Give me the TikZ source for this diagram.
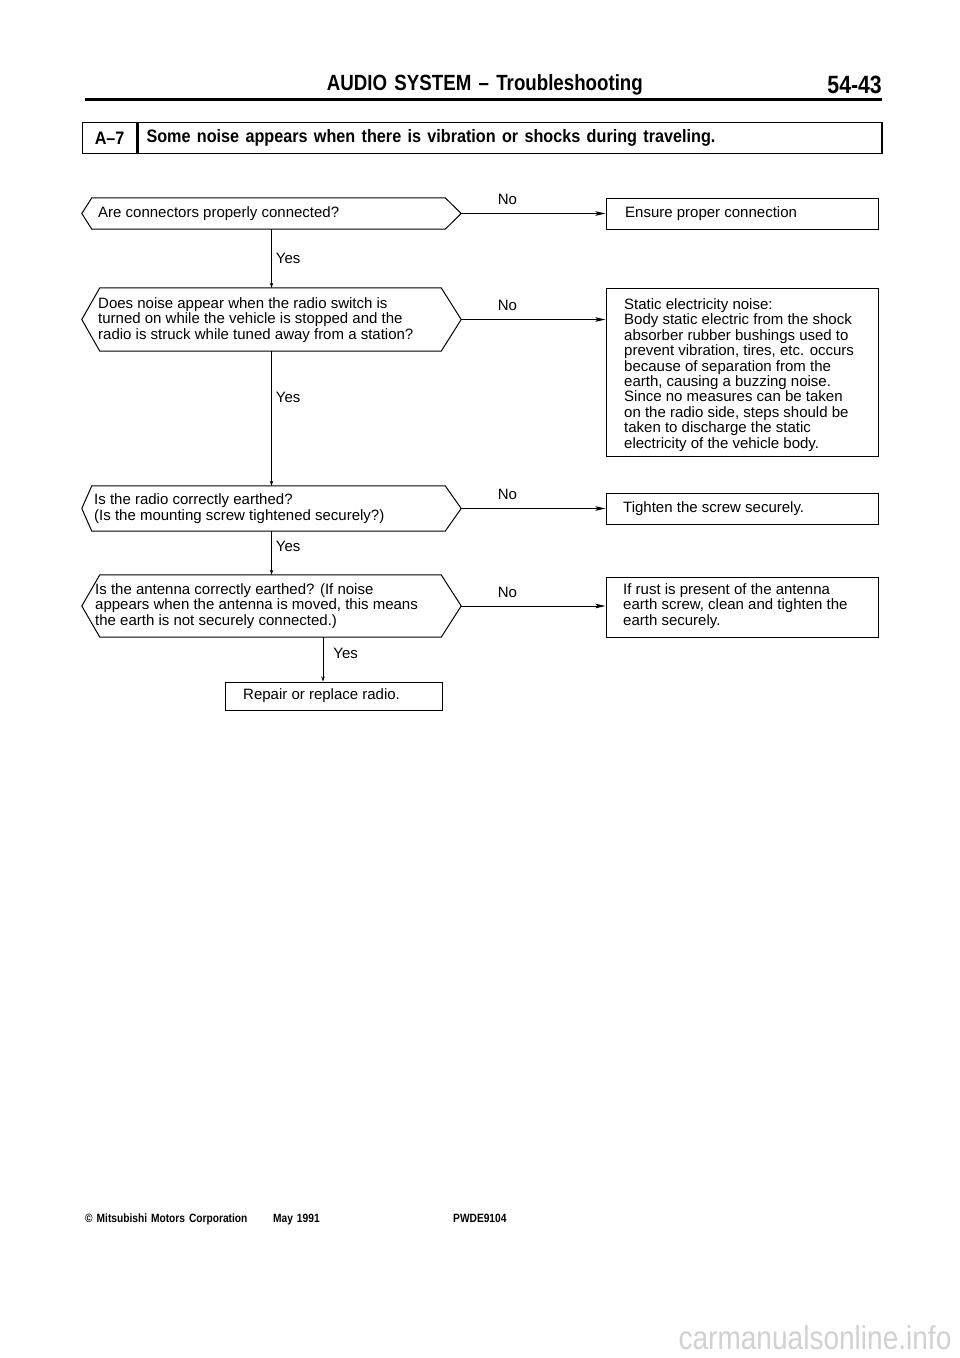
\documentclass[tikz,border=0pt]{standalone}
\usepackage{fontspec}
\setmainfont{Liberation Sans}
\newfontfamily\condsans[FakeStretch=0.85,WordSpace=1.4]{Liberation Sans}
\newfontfamily\titlesans[FakeStretch=0.9,WordSpace=1.4]{Liberation Sans}
\usetikzlibrary{arrows.meta,calc}
\newcommand\dechex[3]{\draw[frame] (#1.west) -- ([xshift=#2]#1.north west) -- ([xshift=-#3]#1.north east) -- (#1.east) -- ([xshift=-#3]#1.south east) -- ([xshift=#2]#1.south west) -- cycle;}
\begin{document}
\begin{tikzpicture}[x=1pt,y=-1pt,
  txt/.style={font=\fontsize{15}{15.4}\selectfont, inner sep=0pt, align=left, anchor=west},
  frame/.style={draw, line width=1pt, inner sep=0pt},
  hexnode/.style={inner sep=0pt},
  link/.style={line width=0.9pt},
  noarr/.style={link, -{Stealth[length=10pt,width=4.5pt,inset=2pt]}},
  yesarr/.style={link, -{Stealth[length=5pt,width=3.5pt]}},
  lab/.style={font=\fontsize{15}{15}\selectfont, inner sep=0pt},
  foot/.style={font=\condsans\bfseries\fontsize{12}{12}\selectfont, inner sep=0pt, anchor=base west}]

\useasboundingbox[fill=white] (0,0) rectangle (960,1358);

% header
\node[font=\condsans\bfseries\fontsize{22}{22}\selectfont, anchor=east, inner sep=0pt] (hdr) at (643,85) {AUDIO SYSTEM – Troubleshooting};
\node[font=\condsans\bfseries\fontsize{25}{25}\selectfont, anchor=east, inner sep=0pt] (pg) at (882,85) {54-43};
\coordinate (rl) at (85,99);
\coordinate (rr) at (882,99);
\draw[line width=3pt] (rl) -- (rr);

% title row
\node[frame, line width=1.3pt, minimum width=54pt, minimum height=31pt, anchor=north west] (a7) at (82,122) {};
\node[font=\titlesans\bfseries\fontsize{18}{18}\selectfont, inner sep=0pt] (a7t) at (a7.center) {A–7};
\node[frame, line width=1.3pt, minimum width=744pt, minimum height=31pt, anchor=north west] (ttl) at (a7.north east) {};
\node[font=\titlesans\bfseries\fontsize{18}{18}\selectfont, inner sep=0pt, anchor=west] (ttlt) at ([xshift=9pt]ttl.west) {Some noise appears when there is vibration or shocks during traveling.};

% decisions
\node[hexnode, minimum width=379pt, minimum height=31pt] (d1) at (271.5,213.5) {};
\dechex{d1}{10pt}{16pt}
\node[txt] (d1t) at (98,213.5) {Are connectors properly connected?};

\node[hexnode, minimum width=379pt, minimum height=63pt] (d2) at (271.5,319.5) {};
\dechex{d2}{18pt}{20pt}
\node[txt] (d2t) at (98,320) {Does noise appear when the radio switch is\\turned on while the vehicle is stopped and the\\radio is struck while tuned away from a station?};

\node[hexnode, minimum width=379pt, minimum height=45pt] (d3) at (271.5,508.5) {};
\dechex{d3}{10pt}{16pt}
\node[txt] (d3t) at (94,508.5) {Is the radio correctly earthed?\\(Is the mounting screw tightened securely?)};

\node[hexnode, minimum width=379pt, minimum height=62pt] (d4) at (271.5,606) {};
\dechex{d4}{18pt}{20pt}
\node[txt] (d4t) at (95,606) {Is the antenna correctly earthed? (If noise\\appears when the antenna is moved, this means\\the earth is not securely connected.)};

% result boxes
\node[frame, minimum width=272pt, minimum height=31pt] (b1) at (742,213.5) {};
\node[txt] (b1t) at (625,213.5) {Ensure proper connection};

\node[frame, minimum width=272pt, minimum height=168pt] (b2) at (742,372) {};
\node[txt] (b2t) at (624,375) {Static electricity noise:\\Body static electric from the shock\\absorber rubber bushings used to\\prevent vibration, tires, etc. occurs\\because of separation from the\\earth, causing a buzzing noise.\\Since no measures can be taken\\on the radio side, steps should be\\taken to discharge the static\\electricity of the vehicle body.};

\node[frame, minimum width=272pt, minimum height=31pt] (b3) at (742,508.5) {};
\node[txt] (b3t) at (623,508.5) {Tighten the screw securely.};

\node[frame, minimum width=272pt, minimum height=60pt] (b4) at (742,607) {};
\node[txt] (b4t) at (623,606) {If rust is present of the antenna\\earth screw, clean and tighten the\\earth securely.};

\node[frame, minimum width=217pt, minimum height=28pt] (b5) at (333.5,696) {};
\node[txt] (b5t) at (243,696) {Repair or replace radio.};

% No connectors
\draw[noarr] (d1.east) -- node[lab, pos=0.32, above=8pt] (n1) {No} (d1.east -| b1.west);
\draw[noarr] (d2.east) -- node[lab, pos=0.32, above=8pt] (n2) {No} (d2.east -| b2.west);
\draw[noarr] (d3.east) -- node[lab, pos=0.32, above=8pt] (n3) {No} (d3.east -| b3.west);
\draw[noarr] (d4.east) -- node[lab, pos=0.32, above=8pt] (n4) {No} (d4.east -| b4.west);

% Yes connectors
\draw[yesarr] (d1.south) -- node[lab, pos=0.5, right=4pt] (y1) {Yes} (d2.north);
\draw[yesarr] (d2.south) -- node[lab, pos=0.34, right=4pt] (y2) {Yes} (d3.north);
\draw[yesarr] (d3.south) -- node[lab, pos=0.36, right=4pt] (y3) {Yes} (d4.north);
\draw[yesarr] ([xshift=-10.5pt]b5.north |- d4.south) -- node[lab, pos=0.36, right=10pt] (y4) {Yes} ([xshift=-10.5pt]b5.north);

% footer
\node[foot] (f1) at (85,1222) {© Mitsubishi Motors Corporation};
\node[foot] (f2) at (273,1222) {May 1991};
\node[foot] (f3) at (453,1222) {PWDE9104};
\node[font=\condsans\fontsize{33}{33}\selectfont, text=black!18, inner sep=0pt] (wm) at (815,1338) {carmanualsonline.info};
\end{tikzpicture}
\end{document}
